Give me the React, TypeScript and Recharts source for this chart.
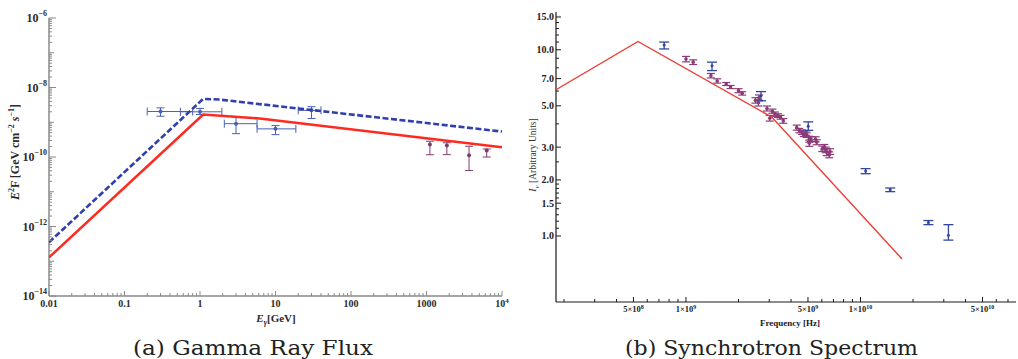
import React from 'react';
import { ComposedChart, Scatter, XAxis, YAxis, ErrorBar } from 'recharts';

const SERIF = '"Liberation Serif", "Times New Roman", serif';
const CAPTION_FONT = '"DejaVu Serif", serif';

// ---------------- (a) Gamma Ray Flux ----------------
const blueModelE = [0.01, 1.1, 1.8, 10000];
const blueModelF = [3.5e-13, 4.7e-9, 4.5e-9, 5.4e-10];
const redModelE = [0.01, 1.1, 6.2, 10000];
const redModelF = [1.29e-13, 1.67e-9, 1.28e-9, 1.9e-10];

const fermiE = [0.3, 1.0, 3.0, 10, 30];
const fermiELow = [0.2, 0.55, 2.1, 5.7, 20];
const fermiEHigh = [0.8, 1.95, 5.7, 18.6, 40];
const fermiF = [2.04e-9, 2.0e-9, 9.1e-10, 6.45e-10, 2.2e-9];
const fermiFLow = [1.49e-9, 1.67e-9, 4.7e-10, 4.4e-10, 1.28e-9];
const fermiFHigh = [2.6e-9, 2.5e-9, 1.45e-9, 8.0e-10, 2.8e-9];

const tevE = [1110, 1860, 3660, 6270];
const tevF = [2.3e-10, 2.14e-10, 1.12e-10, 1.53e-10];
const tevFLow = [1.16e-10, 1.17e-10, 4.1e-11, 1.0e-10];
const tevFHigh = [2.85e-10, 2.57e-10, 2.04e-10, 1.7e-10];

const leftXDecades = [-2, -1, 0, 1, 2, 3, 4];
const leftYDecades = [-14, -13, -12, -11, -10, -9, -8, -7, -6];
const leftXLabels: Record<number, string> = { [-2]: '0.01', [-1]: '0.1', 0: '1', 1: '10', 2: '100', 3: '1000' };

// ---------------- (b) Synchrotron Spectrum ----------------
const synchModelFreq = [1.8e8, 5.31e8, 3.11e9, 1.73e10];
const synchModelI = [6.1, 11.08, 4.34, 0.752];

const blueFreq = [7.5e8, 1.41e9, 2.69e9, 5.02e9, 1.07e10, 1.48e10, 2.45e10, 3.19e10];
const blueI = [10.6, 8.2, 5.66, 3.88, 2.23, 1.77, 1.18, 1.01];
const blueILow = [10.1, 7.73, 5.32, 3.69, 2.16, 1.73, 1.15, 0.95];
const blueIHigh = [11.0, 8.58, 5.96, 4.1, 2.3, 1.81, 1.21, 1.15];

const purpleFreq = [
  1.0e9, 1.1e9, 1.39e9, 1.51e9, 1.7e9, 1.8e9, 2.0e9, 2.1e9, 2.5e9, 2.6e9, 2.62e9, 2.91e9,
  3.02e9, 3.13e9, 3.24e9, 3.37e9, 3.48e9, 3.61e9, 4.31e9, 4.46e9, 4.62e9, 4.74e9, 4.87e9,
  4.92e9, 5.09e9, 5.09e9, 5.2e9, 5.53e9, 5.61e9, 6.04e9, 6.2e9, 6.32e9, 6.4e9, 6.69e9, 6.62e9,
];
const purpleI = [
  8.91, 8.58, 7.26, 6.8, 6.55, 6.31, 6.03, 5.83, 5.35, 5.19, 5.52, 4.84,
  4.29, 4.68, 4.51, 4.43, 4.34, 4.15, 3.82, 3.68, 3.61, 3.52, 3.57,
  3.48, 3.31, 3.15, 3.31, 3.31, 3.19, 2.94, 3.0, 2.9, 2.82, 2.84, 2.73,
];
const purpleErr = [
  0.3, 0.25, 0.2, 0.18, 0.12, 0.12, 0.15, 0.12, 0.18, 0.2, 0.2, 0.15,
  0.15, 0.12, 0.12, 0.1, 0.1, 0.12, 0.12, 0.1, 0.1, 0.1, 0.1,
  0.1, 0.12, 0.12, 0.1, 0.1, 0.1, 0.1, 0.1, 0.1, 0.12, 0.1, 0.1,
];

const rightXDecades = [8, 9, 10];
const rightXLabelled: Record<string, [string, string]> = {
  '5e8': ['5', '8'], '1e9': ['1', '9'], '5e9': ['5', '9'], '1e10': ['1', '10'], '5e10': ['5', '10'],
};
const rightYLabels = [1.0, 1.5, 2.0, 3.0, 5.0, 7.0, 10.0, 15.0];
const rightYMinor = [1.1, 1.2, 1.3, 1.4, 1.6, 1.7, 1.8, 1.9, 2.5, 4, 6, 8, 9, 11, 12, 13, 14];

// ---------------- helpers ----------------
function logTicks(decades: number[], maxVal: number) {
  const out: number[] = [];
  decades.forEach((e) => {
    for (let m = 1; m <= 9; m++) {
      const v = m * Math.pow(10, e);
      if (v <= maxVal * 1.0000001) out.push(v);
    }
  });
  return out;
}
function splitLog(v: number) {
  const e = Math.floor(Math.log10(v) + 1e-9);
  const m = Math.round(v / Math.pow(10, e));
  return { e, m };
}

const leftXTicks = logTicks(leftXDecades, 1e4).filter((v) => v >= 0.01);
const leftYTicks = logTicks(leftYDecades, 1e-6).filter((v) => v >= 1e-14);
const rightXTicks = logTicks(rightXDecades, 7.78e10).filter((v) => v >= 1.8e8);
const rightYTicks = [...rightYLabels, ...rightYMinor].sort((a, b) => a - b);

const zip = (xs: number[], ys: number[]) => xs.map((x, i) => ({ x, y: ys[i] }));

const blueModelData = zip(blueModelE, blueModelF);
const redModelData = zip(redModelE, redModelF);
const fermiData = fermiE.map((x, i) => ({
  x,
  y: fermiF[i],
  ex: [x - fermiELow[i], fermiEHigh[i] - x],
  ey: [fermiF[i] - fermiFLow[i], fermiFHigh[i] - fermiF[i]],
}));
const tevData = tevE.map((x, i) => ({
  x,
  y: tevF[i],
  ey: [tevF[i] - tevFLow[i], tevFHigh[i] - tevF[i]],
}));
const synchModelData = zip(synchModelFreq, synchModelI);
const blueData = blueFreq.map((x, i) => ({
  x,
  y: blueI[i],
  ey: [blueI[i] - blueILow[i], blueIHigh[i] - blueI[i]],
}));
const purpleData = purpleFreq.map((x, i) => ({ x, y: purpleI[i], ey: purpleErr[i] }));

// ---------------- styles ----------------
const GRAY = '#8a8a8a';
const LTXT = '#2a2a2a';
const RAX = '#1a1a1a';
const BLUE_DASH = '#2f3fb0';
const RED_L = '#ff2a1f';
const FERMI = '#4a60b8';
const TEV = '#7d3e6e';
const RED_R = '#ee3b34';
const BLUE_R = '#3347a0';
const PURPLE_R = '#8b3b78';

const NoShape = () => <g />;
const dot = (color: string, r: number) => (p: any) => <circle cx={p.cx} cy={p.cy} r={r} fill={color} />;

// ---------- left chart ticks ----------
const LeftXTick = (p: any) => {
  const { x, y, payload } = p;
  const { e, m } = splitLog(payload.value);
  const len = m === 1 ? 5 : 3;
  return (
    <g>
      <line x1={x} x2={x} y1={y} y2={y - len} stroke={GRAY} strokeWidth={1} />
      {m === 1 && (
        <text x={x} y={y + 11} textAnchor="middle" fontFamily={SERIF} fontWeight="bold" fontSize={10} fill={LTXT}>
          {e === 4 ? (
            <>
              10<tspan dy={-4} fontSize={7}>4</tspan>
            </>
          ) : (
            leftXLabels[e]
          )}
        </text>
      )}
    </g>
  );
};
const LeftTopTick = (p: any) => {
  const { x, y, payload } = p;
  const { m } = splitLog(payload.value);
  return <line x1={x} x2={x} y1={y} y2={y + (m === 1 ? 5 : 3)} stroke={GRAY} strokeWidth={1} />;
};
const LeftYTick = (p: any) => {
  const { x, y, payload } = p;
  const { e, m } = splitLog(payload.value);
  const labelled = m === 1 && e % 2 === 0;
  const len = labelled ? 7 : m === 1 ? 5 : 3;
  return (
    <g>
      <line x1={x} x2={x + len} y1={y} y2={y} stroke={GRAY} strokeWidth={1} />
      {labelled && (
        <text x={x - 2} y={y + 4} textAnchor="end" fontFamily={SERIF} fontWeight="bold" fontSize={12} fill={LTXT}>
          10<tspan dy={-6} fontSize={8}>{'\u2212' + -e}</tspan>
        </text>
      )}
    </g>
  );
};
const LeftRightTick = (p: any) => {
  const { x, y, payload } = p;
  const { e, m } = splitLog(payload.value);
  const len = m === 1 ? (e % 2 === 0 ? 7 : 5) : 3;
  return <line x1={x} x2={x - len} y1={y} y2={y} stroke={GRAY} strokeWidth={1} />;
};

// ---------- right chart ticks ----------
const RightXTick = (p: any) => {
  const { x, y, payload } = p;
  const { e, m } = splitLog(payload.value);
  const lab = rightXLabelled[`${m}e${e}`];
  const len = lab ? 5 : 3;
  return (
    <g>
      <line x1={x} x2={x} y1={y} y2={y - len} stroke={RAX} strokeWidth={1} />
      {lab && (
        <text x={x} y={y + 10} textAnchor="middle" fontFamily={SERIF} fontWeight="bold" fontSize={8.5} fill={RAX}>
          {lab[0]}{'\u00d7'}10<tspan dy={-3.5} fontSize={6}>{lab[1]}</tspan>
        </text>
      )}
    </g>
  );
};
const RightTopTick = (p: any) => {
  const { x, y, payload } = p;
  const { e, m } = splitLog(payload.value);
  const lab = rightXLabelled[`${m}e${e}`];
  return <line x1={x} x2={x} y1={y} y2={y + (lab ? 5 : 3)} stroke={RAX} strokeWidth={1} />;
};
const RightYTick = (p: any) => {
  const { x, y, payload } = p;
  const v = payload.value;
  const labelled = rightYLabels.includes(v);
  return (
    <g>
      <line x1={x} x2={x + (labelled ? 5 : 3)} y1={y} y2={y} stroke={RAX} strokeWidth={1} />
      {labelled && (
        <text x={x - 2} y={y + 3.5} textAnchor="end" fontFamily={SERIF} fontWeight="bold" fontSize={10} fill={RAX}>
          {v.toFixed(1)}
        </text>
      )}
    </g>
  );
};

export default function App() {
  return (
    <div style={{ position: 'absolute', left: 0, top: 0, width: 1018, height: 359, background: '#fff', overflow: 'hidden' }}>
      {/* (a) Gamma Ray Flux */}
      <div style={{ position: 'absolute', left: 0, top: 0 }}>
        <ComposedChart width={520} height={330} margin={{ top: 18, right: 18, bottom: 4, left: 0 }}>
          <XAxis
            xAxisId="b"
            dataKey="x"
            type="number"
            scale="log"
            domain={[0.01, 1e4]}
            allowDataOverflow
            ticks={leftXTicks}
            interval={0}
            tick={<LeftXTick />}
            tickLine={false}
            tickSize={0}
            tickMargin={0}
            axisLine={{ stroke: GRAY, strokeWidth: 1.5 }}
            height={30}
          />
          <XAxis
            xAxisId="t"
            orientation="top"
            type="number"
            scale="log"
            domain={[0.01, 1e4]}
            allowDataOverflow
            ticks={leftXTicks}
            interval={0}
            tick={<LeftTopTick />}
            tickLine={false}
            tickSize={0}
            tickMargin={0}
            axisLine={{ stroke: GRAY, strokeWidth: 1.5 }}
            height={0}
          />
          <YAxis
            yAxisId="l"
            dataKey="y"
            type="number"
            scale="log"
            domain={[1e-14, 1e-6]}
            allowDataOverflow
            ticks={leftYTicks}
            interval={0}
            tick={<LeftYTick />}
            tickLine={false}
            tickSize={0}
            tickMargin={0}
            axisLine={{ stroke: GRAY, strokeWidth: 1.5 }}
            width={49}
          />
          <YAxis
            yAxisId="r"
            orientation="right"
            type="number"
            scale="log"
            domain={[1e-14, 1e-6]}
            allowDataOverflow
            ticks={leftYTicks}
            interval={0}
            tick={<LeftRightTick />}
            tickLine={false}
            tickSize={0}
            tickMargin={0}
            axisLine={{ stroke: GRAY, strokeWidth: 1.5 }}
            width={0}
          />
          <Scatter xAxisId="b" yAxisId="l" data={fermiData} shape={dot(FERMI, 2)} isAnimationActive={false}>
            <ErrorBar dataKey="ex" direction="x" width={4} stroke={FERMI} strokeWidth={1} isAnimationActive={false} />
            <ErrorBar dataKey="ey" direction="y" width={4} stroke={FERMI} strokeWidth={1} isAnimationActive={false} />
          </Scatter>
          <Scatter xAxisId="b" yAxisId="l" data={tevData} shape={dot(TEV, 2)} isAnimationActive={false}>
            <ErrorBar dataKey="ey" direction="y" width={4} stroke={TEV} strokeWidth={1} isAnimationActive={false} />
          </Scatter>
          <Scatter
            xAxisId="b"
            yAxisId="l"
            data={redModelData}
            shape={NoShape}
            line={{ stroke: RED_L, strokeWidth: 2.6 }}
            isAnimationActive={false}
          />
          <Scatter
            xAxisId="b"
            yAxisId="l"
            data={blueModelData}
            shape={NoShape}
            line={{ stroke: BLUE_DASH, strokeWidth: 2.6, strokeDasharray: '6 2.5' }}
            isAnimationActive={false}
          />
        </ComposedChart>
      </div>

      {/* (b) Synchrotron Spectrum */}
      <div style={{ position: 'absolute', left: 510, top: 0 }}>
        <ComposedChart width={508} height={340} margin={{ top: 12, right: 2, bottom: 8, left: 0 }}>
          <XAxis
            xAxisId="b"
            dataKey="x"
            type="number"
            scale="log"
            domain={[1.8e8, 7.78e10]}
            allowDataOverflow
            ticks={rightXTicks}
            interval={0}
            tick={<RightXTick />}
            tickLine={false}
            tickSize={0}
            tickMargin={0}
            axisLine={{ stroke: RAX, strokeWidth: 1.2 }}
            height={30}
          />
          <XAxis
            xAxisId="t"
            orientation="top"
            type="number"
            scale="log"
            domain={[1.8e8, 7.78e10]}
            allowDataOverflow
            ticks={rightXTicks}
            interval={0}
            tick={<RightTopTick />}
            tickLine={false}
            tickSize={0}
            tickMargin={0}
            axisLine={{ stroke: RAX, strokeWidth: 1.2 }}
            height={0}
          />
          <YAxis
            yAxisId="l"
            dataKey="y"
            type="number"
            scale="log"
            domain={[0.442, 15.95]}
            allowDataOverflow
            ticks={rightYTicks}
            interval={0}
            tick={<RightYTick />}
            tickLine={false}
            tickSize={0}
            tickMargin={0}
            axisLine={{ stroke: RAX, strokeWidth: 1.2 }}
            width={46}
          />
          <Scatter
            xAxisId="b"
            yAxisId="l"
            data={synchModelData}
            shape={NoShape}
            line={{ stroke: RED_R, strokeWidth: 1.4 }}
            isAnimationActive={false}
          />
          <Scatter xAxisId="b" yAxisId="l" data={purpleData} shape={dot(PURPLE_R, 1.8)} isAnimationActive={false}>
            <ErrorBar dataKey="ey" direction="y" width={4} stroke={PURPLE_R} strokeWidth={1.2} isAnimationActive={false} />
          </Scatter>
          <Scatter xAxisId="b" yAxisId="l" data={blueData} shape={dot(BLUE_R, 1.5)} isAnimationActive={false}>
            <ErrorBar dataKey="ey" direction="y" width={5} stroke={BLUE_R} strokeWidth={1.3} isAnimationActive={false} />
          </Scatter>
        </ComposedChart>
      </div>

      {/* titles and captions */}
      <svg width={1018} height={359} style={{ position: 'absolute', left: 0, top: 0, pointerEvents: 'none' }}>
        <text
          transform="translate(19,152) rotate(-90)"
          textAnchor="middle"
          fontFamily={SERIF}
          fontWeight="bold"
          fontSize={12}
          fill={LTXT}
        >
          <tspan fontStyle="italic">E</tspan>
          <tspan dy={-5} fontSize={8}>2</tspan>
          <tspan dy={5}>F [GeV cm</tspan>
          <tspan dy={-5} fontSize={8}>{'\u22122'}</tspan>
          <tspan dy={5}> </tspan>
          <tspan fontStyle="italic">s</tspan>
          <tspan dy={-5} fontSize={8}>{'\u22121'}</tspan>
          <tspan dy={5}>]</tspan>
        </text>
        <text x={276} y={322} textAnchor="middle" fontFamily={SERIF} fontWeight="bold" fontSize={11} fill={LTXT}>
          <tspan fontStyle="italic">E</tspan>
          <tspan dy={3} fontSize={8} fontStyle="italic">{'\u03b3'}</tspan>
          <tspan dy={-3}>[GeV]</tspan>
        </text>
        <text transform="translate(536,155) rotate(-90)" textAnchor="middle" fontFamily={SERIF} fontSize={9.5} fill="#333">
          <tspan fontStyle="italic">I</tspan>
          <tspan dy={2.5} fontSize={7} fontStyle="italic">{'\u03bd'}</tspan>
          <tspan dy={-2.5}> [Arbitrary Units]</tspan>
        </text>
        <text x={790} y={326} textAnchor="middle" fontFamily={SERIF} fontWeight="bold" fontSize={9} fill={RAX}>
          Frequency [Hz]
        </text>
        <text
          x={133}
          y={355}
          fontFamily={CAPTION_FONT}
          fontSize={21}
          fill="#222"
          textLength={240}
          lengthAdjust="spacingAndGlyphs"
        >
          (a) Gamma Ray Flux
        </text>
        <text
          x={625}
          y={355}
          fontFamily={CAPTION_FONT}
          fontSize={21}
          fill="#222"
          textLength={293}
          lengthAdjust="spacingAndGlyphs"
        >
          (b) Synchrotron Spectrum
        </text>
      </svg>
    </div>
  );
}
